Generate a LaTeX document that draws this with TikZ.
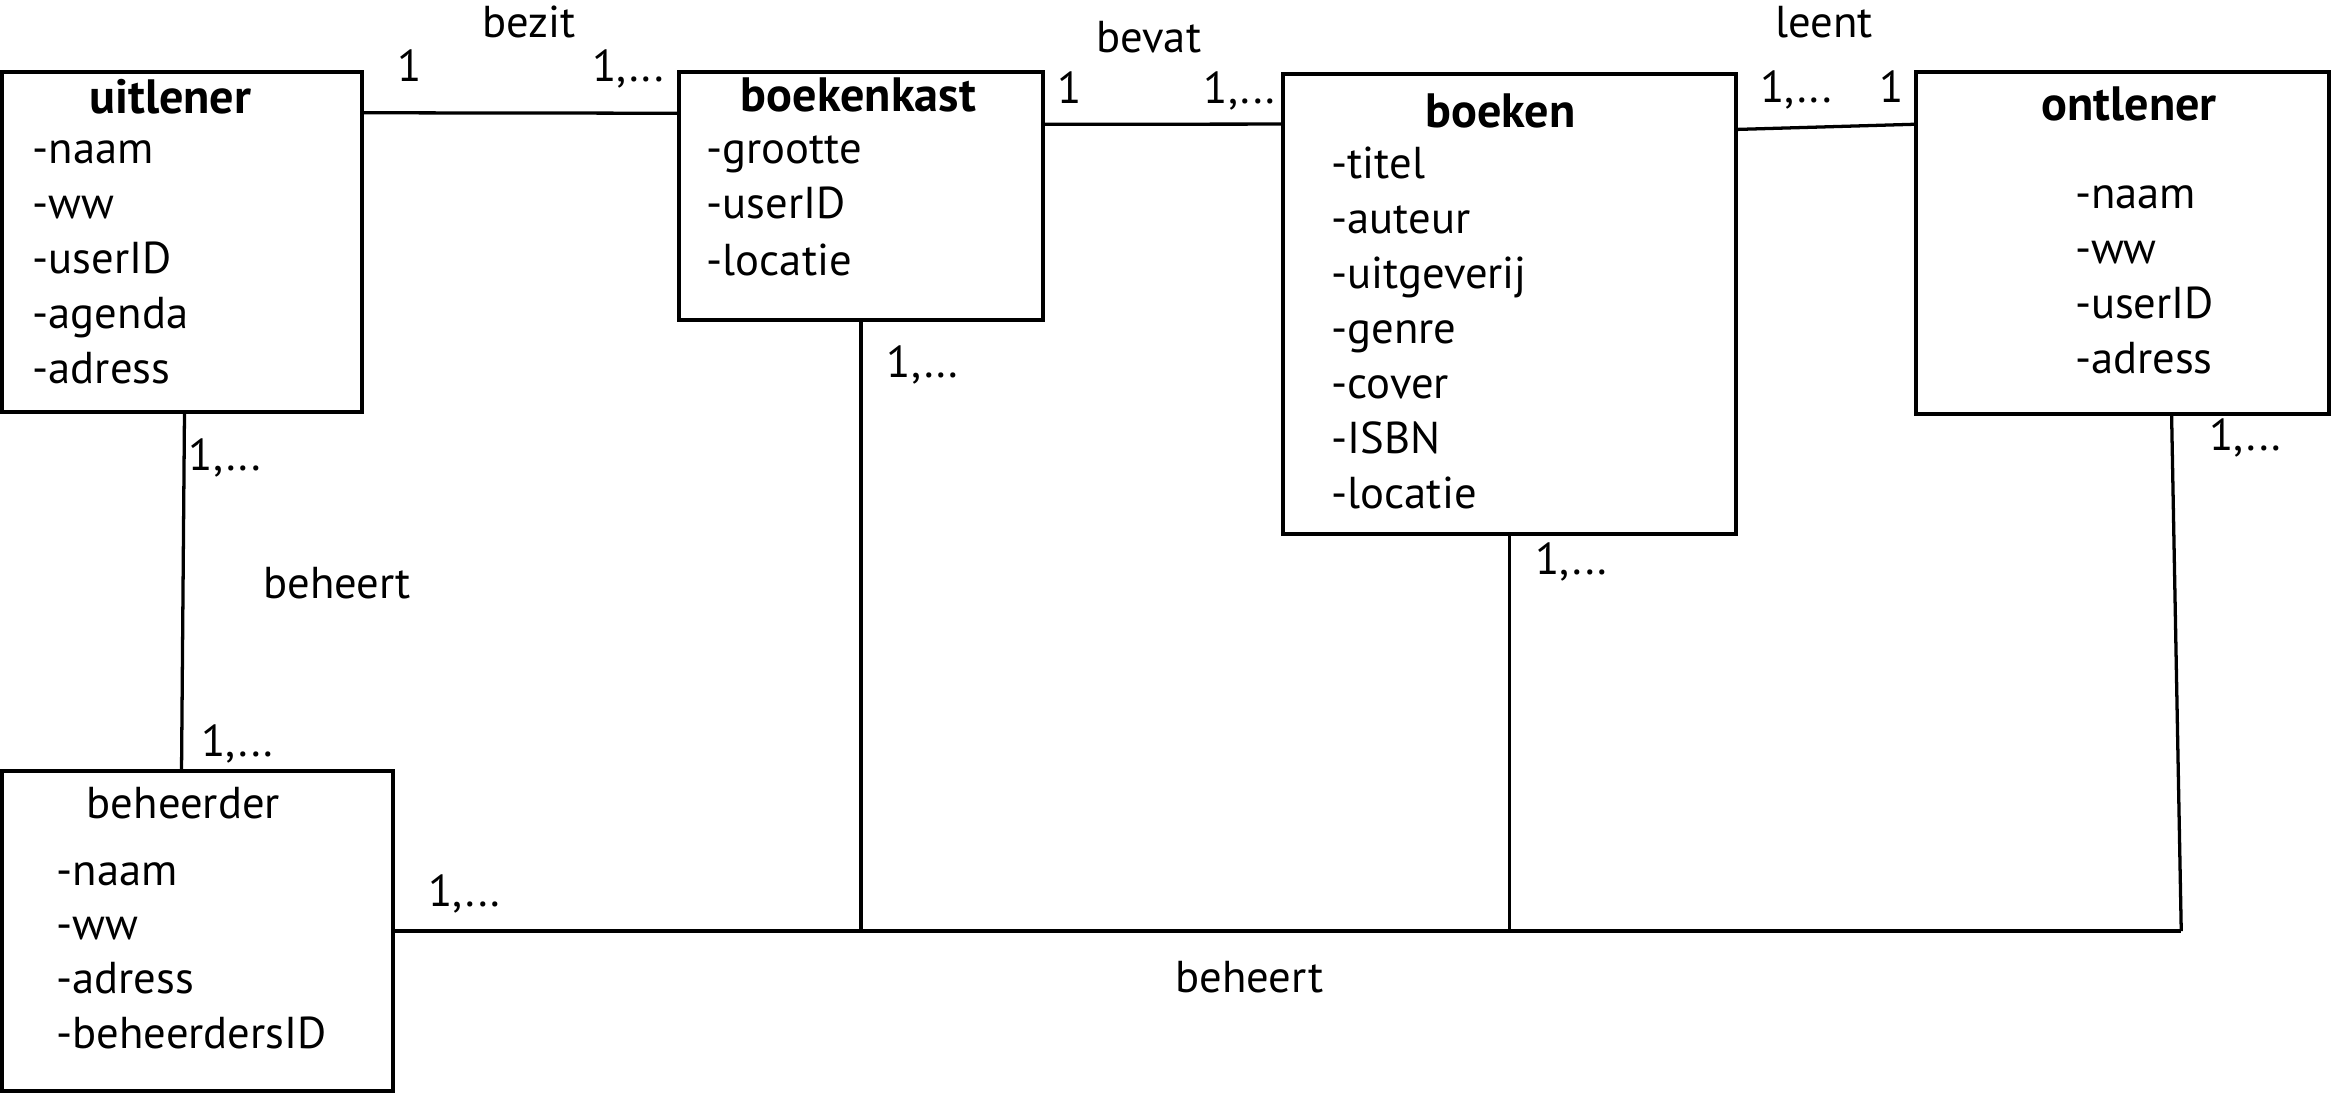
\documentclass[tikz,border=0pt]{standalone}
\usepackage{fontspec}
\setmainfont{PT Sans}
\begin{document}
\begin{tikzpicture}[x=1pt,y=-1pt,
  box/.style={draw, line width=2.8pt, inner sep=0pt, outer sep=0pt},
  txt/.style={anchor=base west, inner sep=0pt, outer sep=0pt, font=\fontsize{30}{36}\selectfont},
  ttl/.style={anchor=base west, inner sep=0pt, outer sep=0pt, font=\fontsize{32.4}{38}\selectfont\bfseries},
  conn/.style={line width=2.2pt},
  connb/.style={line width=2.8pt}]
\useasboundingbox (0,0) rectangle (1568,736);

% boxes
\node[box, minimum width=241.6pt, minimum height=228.8pt] (uit) at (122.4,162.6) {};
\node[box, minimum width=244.5pt, minimum height=166.5pt] (bk) at (578.75,131.75) {};
\node[box, minimum width=304.5pt, minimum height=309pt] (bo) at (1014.75,204.5) {};
\node[box, minimum width=278pt, minimum height=229.5pt] (ont) at (1426.5,163.25) {};
\node[box, minimum width=262.5pt, minimum height=215.5pt] (beh) at (132.75,625.75) {};

% uitlener text
\node[ttl] (uitT) at (60,76) {uitlener};
\node[txt] (uit1) at (22,110) {-naam};
\node[txt] (uit2) at (22,147) {-ww};
\node[txt] (uit3) at (22,184) {-userID};
\node[txt] (uit4) at (22,221) {-agenda};
\node[txt] (uit5) at (22,258) {-adress};

% boekenkast text
\node[ttl] (bkT) at (498,75) {boekenkast};
\node[txt] (bk1) at (475,110) {-grootte};
\node[txt] (bk2) at (475,147) {-userID};
\node[txt] (bk3) at (475,185) {-locatie};

% boeken text
\node[ttl] (boT) at (958,86) {boeken};
\node[txt] (bo1) at (895,120) {-titel};
\node[txt] (bo2) at (895,157) {-auteur};
\node[txt] (bo3) at (895,194) {-uitgeverij};
\node[txt] (bo4) at (895,231) {-genre};
\node[txt] (bo5) at (895,268) {-cover};
\node[txt] (bo6) at (895,305) {-ISBN};
\node[txt] (bo7) at (895,342) {-locatie};

% ontlener text
\node[ttl] (ontT) at (1372,81) {ontlener};
\node[txt] (ont1) at (1394.6,140) {-naam};
\node[txt] (ont2) at (1394.6,177) {-ww};
\node[txt] (ont3) at (1394.6,214) {-userID};
\node[txt] (ont4) at (1394.6,251) {-adress};

% beheerder text
\node[txt] (behT) at (58.4,550) {beheerder};
\node[txt] (beh1) at (38,595) {-naam};
\node[txt] (beh2) at (38,631.5) {-ww};
\node[txt] (beh3) at (38,668) {-adress};
\node[txt] (beh4) at (38,704.5) {-beheerdersID};

% connectors
\coordinate (corner) at (1466,625.75);
\draw[conn] ([yshift=-27.6pt]uit.north east) -- ([yshift=-27.6pt]bk.north west);
\draw[conn] ([yshift=-35pt]bk.north east) -- ([yshift=-33.4pt]bo.north west);
\draw[conn] ([yshift=-37pt]bo.north east) -- ([yshift=-35pt]ont.north west);
\draw[conn] ([xshift=1.6pt]uit.south) -- ([xshift=-10.75pt]beh.north);
\draw[connb] (beh.east) -- (corner);
\draw[conn] (bk.south) -- (bk.south |- beh.east);
\draw[conn] (bo.south) -- (bo.south |- beh.east);
\draw[conn] ([xshift=33pt]ont.south) -- (corner);

% labels
\node[txt] (lbezit) at (324,25) {bezit};
\node[txt] (lbz1) at (267,55) {1};
\node[txt] (lbz2) at (398,55) {1,...};
\node[txt] (lbevat) at (737,35) {bevat};
\node[txt] (lbv1) at (711,69.5) {1};
\node[txt] (lbv2) at (809,69.5) {1,...};
\node[txt] (lleent) at (1193,25.5) {leent};
\node[txt] (llt1) at (1183,69) {1,...};
\node[txt] (llt2) at (1263,69) {1};
\node[txt] (lub1) at (127,316) {1,...};
\node[txt] (lbeheert1) at (177,402) {beheert};
\node[txt] (lub2) at (135.5,508.6) {1,...};
\node[txt] (lbk) at (596,254) {1,...};
\node[txt] (lbo) at (1032,386) {1,...};
\node[txt] (lont) at (1485,303) {1,...};
\node[txt] (lbeh) at (288,609.5) {1,...};
\node[txt] (lbeheert2) at (790,667) {beheert};
\end{tikzpicture}
\end{document}
